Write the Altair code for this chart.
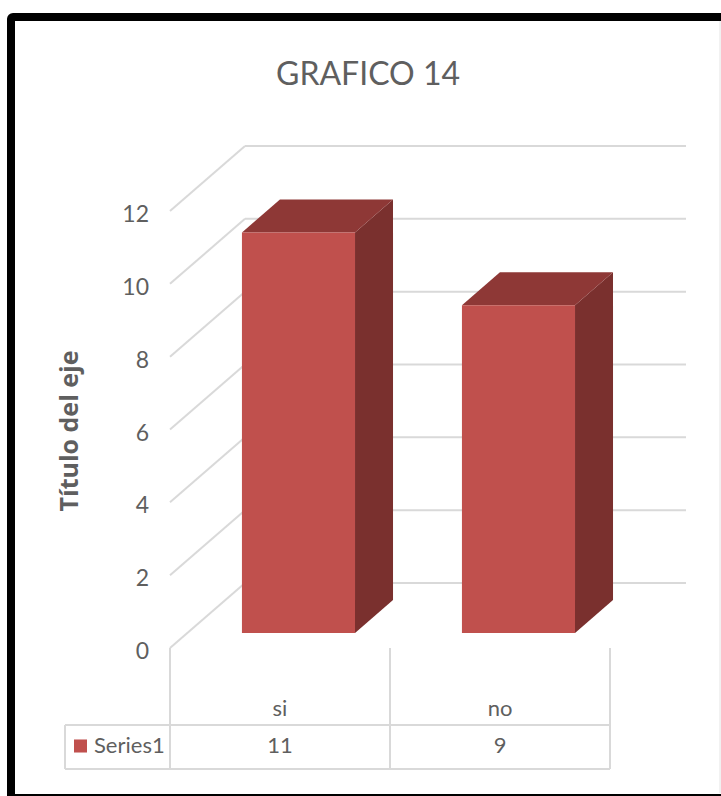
import altair as alt
import pandas as pd

categories = ["si", "no"]
series_values = [11, 9]
series_name = "Series1"
y_ticks = [0, 2, 4, 6, 8, 10, 12]
chart_title = "GRAFICO 14"

FONT = "Lato"
TEXT = "#5f5f5f"
GRID = "#d9d9d9"
FRONT, TOP, SIDE = "#c0504d", "#8e3836", "#7a302e"
LINE = 2

# Plot area: one x unit is one category column, y is in value units.
PLOT_W, PLOT_H = 440, 437
LEFT, TOP_PAD = 170, 211
X_UNIT = PLOT_W / 2
Y_UNIT = PLOT_H / 12

# Receding depth of the walls and of the bars, in axis units.
WALL_DX, WALL_DY = 75 / X_UNIT, 65 / Y_UNIT
BAR_DX, BAR_DY = 38 / X_UNIT, 33 / Y_UNIT
BAR_START, BAR_WIDTH = 0.327, 0.514
BAR_FLOOR = 15 / Y_UNIT
WALL_END = 516 / X_UNIT

# Data-table rows below the axis, in axis units.
LABEL_Y, VALUE_Y = -61 / Y_UNIT, -98 / Y_UNIT
ROW_TOP, ROW_BOTTOM = -77 / Y_UNIT, -121 / Y_UNIT
TABLE_LEFT = -105 / X_UNIT

xs = alt.Scale(domain=[0, 2], range=[0, PLOT_W], nice=False, zero=False)
ys = alt.Scale(domain=[0, 12], range=[PLOT_H, 0], nice=False, zero=False)


def X(field):
    return alt.X(field, type="quantitative", scale=xs, axis=None)


def Y(field):
    return alt.Y(field, type="quantitative", scale=ys, axis=None)


def X2(field):
    return alt.X2(field=field)


def Y2(field):
    return alt.Y2(field=field)


grid = pd.DataFrame({"v": y_ticks})
grid["fx"] = 0.0
grid["lx"] = -21 / X_UNIT
grid["bx"] = WALL_DX
grid["ex"] = WALL_END
grid["by"] = grid["v"] + WALL_DY

# Value labels and the rotated axis title.
tick_text = alt.Chart(grid).mark_text(
    font=FONT, fontSize=23, color=TEXT, align="right", baseline="middle", dy=4
).encode(x=X("lx"), y=Y("v"), text="v:Q")
axis_title = alt.Chart(pd.DataFrame({"t": ["Título del eje"]})).mark_text(
    font="Open Sans", fontSize=25, fontWeight="bold", color=TEXT, angle=270, baseline="middle"
).encode(x=alt.value(70 - LEFT), y=alt.value(431 - TOP_PAD), text="t:N")
title_text = alt.Chart(pd.DataFrame({"t": [chart_title]})).mark_text(
    font=FONT, fontSize=32, color=TEXT, baseline="middle"
).encode(x=alt.value(368 - LEFT), y=alt.value(75 - TOP_PAD), text="t:N")

diagonals = alt.Chart(grid).mark_rule(color=GRID, strokeWidth=LINE).encode(
    x=X("fx"), x2=X2("bx"), y=Y("v"), y2=Y2("by")
)
back_lines = alt.Chart(grid).mark_rule(color=GRID, strokeWidth=LINE).encode(
    x=X("bx"), x2=X2("ex"), y=Y("by")
)

# Table grid: column separators and the two row borders.
columns = pd.DataFrame({"x": [0, 1, 2], "y": [0.0] * 3, "y2": [ROW_BOTTOM] * 3})
column_rules = alt.Chart(columns).mark_rule(color=GRID, strokeWidth=LINE).encode(
    x=X("x"), y=Y("y"), y2=Y2("y2")
)
rows = pd.DataFrame({"x": [TABLE_LEFT] * 2, "x2": [2, 2], "y": [ROW_TOP, ROW_BOTTOM]})
row_rules = alt.Chart(rows).mark_rule(color=GRID, strokeWidth=LINE).encode(
    x=X("x"), x2=X2("x2"), y=Y("y")
)
table_edge = pd.DataFrame({"x": [TABLE_LEFT], "y": [ROW_TOP], "y2": [ROW_BOTTOM]})
edge_rule = alt.Chart(table_edge).mark_rule(color=GRID, strokeWidth=LINE).encode(
    x=X("x"), y=Y("y"), y2=Y2("y2")
)

# Bar faces built from the series values.
front_rows, top_rows, side_rows = [], [], []
for i, (cat, val) in enumerate(zip(categories, series_values)):
    x0 = i + BAR_START
    x1 = x0 + BAR_WIDTH
    y0 = BAR_FLOOR
    y1 = BAR_FLOOR + val
    front_rows.append({"cat": cat, "x0": x0, "x1": x1, "y0": y0, "y1": y1})
    top_rows += [
        {"cat": cat, "xa": x0, "xb": x1, "y": y1},
        {"cat": cat, "xa": x0 + BAR_DX, "xb": x1 + BAR_DX, "y": y1 + BAR_DY},
    ]
    side_rows += [
        {"cat": cat, "x": x1, "ya": y0, "yb": y1},
        {"cat": cat, "x": x1 + BAR_DX, "ya": y0 + BAR_DY, "yb": y1 + BAR_DY},
    ]

side_faces = alt.Chart(pd.DataFrame(side_rows)).mark_area(
    color=SIDE, orient="vertical"
).encode(x=X("x"), y=Y("ya"), y2=Y2("yb"), detail="cat:N")
top_faces = alt.Chart(pd.DataFrame(top_rows)).mark_area(
    color=TOP, orient="horizontal"
).encode(x=X("xa"), x2=X2("xb"), y=Y("y"), detail="cat:N")
front_faces = alt.Chart(pd.DataFrame(front_rows)).mark_rect(color=FRONT).encode(
    x=X("x0"), x2=X2("x1"), y=Y("y0"), y2=Y2("y1")
)

# Category names and values inside the table.
cells = pd.DataFrame(
    {
        "cat": categories,
        "val": series_values,
        "x": [i + 0.5 for i in range(len(categories))],
        "ly": [LABEL_Y] * len(categories),
        "vy": [VALUE_Y] * len(categories),
    }
)
category_text = alt.Chart(cells).mark_text(
    font=FONT, fontSize=22, color=TEXT, baseline="middle"
).encode(x=X("x"), y=Y("ly"), text="cat:N")
value_text = alt.Chart(cells).mark_text(
    font=FONT, fontSize=22, color=TEXT, baseline="middle"
).encode(x=X("x"), y=Y("vy"), text="val:Q")

legend_row = pd.DataFrame(
    {"name": [series_name], "sx": [-89.5 / X_UNIT], "tx": [-76 / X_UNIT], "y": [VALUE_Y]}
)
legend_swatch = alt.Chart(legend_row).mark_square(
    size=170, color=FRONT, opacity=1
).encode(x=X("sx"), y=Y("y"))
legend_text = alt.Chart(legend_row).mark_text(
    font=FONT, fontSize=22, color=TEXT, align="left", baseline="middle"
).encode(x=X("tx"), y=Y("y"), text="name:N")

# Outer border of the picture, positioned in pixels around the plot.
frame = alt.Chart(pd.DataFrame({"a": [0]})).mark_rect(
    fillOpacity=0, stroke="#000000", strokeWidth=8, cornerRadius=2
).encode(
    x=alt.value(11 - LEFT),
    x2=alt.value(735 - LEFT),
    y=alt.value(17 - TOP_PAD),
    y2=alt.value(798 - TOP_PAD),
)
inner_edge = alt.Chart(pd.DataFrame({"a": [0]})).mark_rule(
    color="#e4e4e4", strokeWidth=1
).encode(
    x=alt.value(720 - LEFT),
    y=alt.value(21 - TOP_PAD),
    y2=alt.value(793 - TOP_PAD),
)

chart = alt.layer(
    diagonals,
    back_lines,
    column_rules,
    row_rules,
    edge_rule,
    side_faces,
    top_faces,
    front_faces,
    tick_text,
    axis_title,
    title_text,
    category_text,
    value_text,
    legend_swatch,
    legend_text,
    inner_edge,
    frame,
).properties(
    width=PLOT_W,
    height=PLOT_H,
    padding={"left": LEFT, "top": TOP_PAD, "right": 721 - LEFT - PLOT_W, "bottom": 796 - TOP_PAD - PLOT_H},
    autosize=alt.AutoSizeParams(type="none"),
    background="white",
).configure_view(stroke=None)

chart.save("out.html", embed_options={"renderer": "svg", "actions": False})
